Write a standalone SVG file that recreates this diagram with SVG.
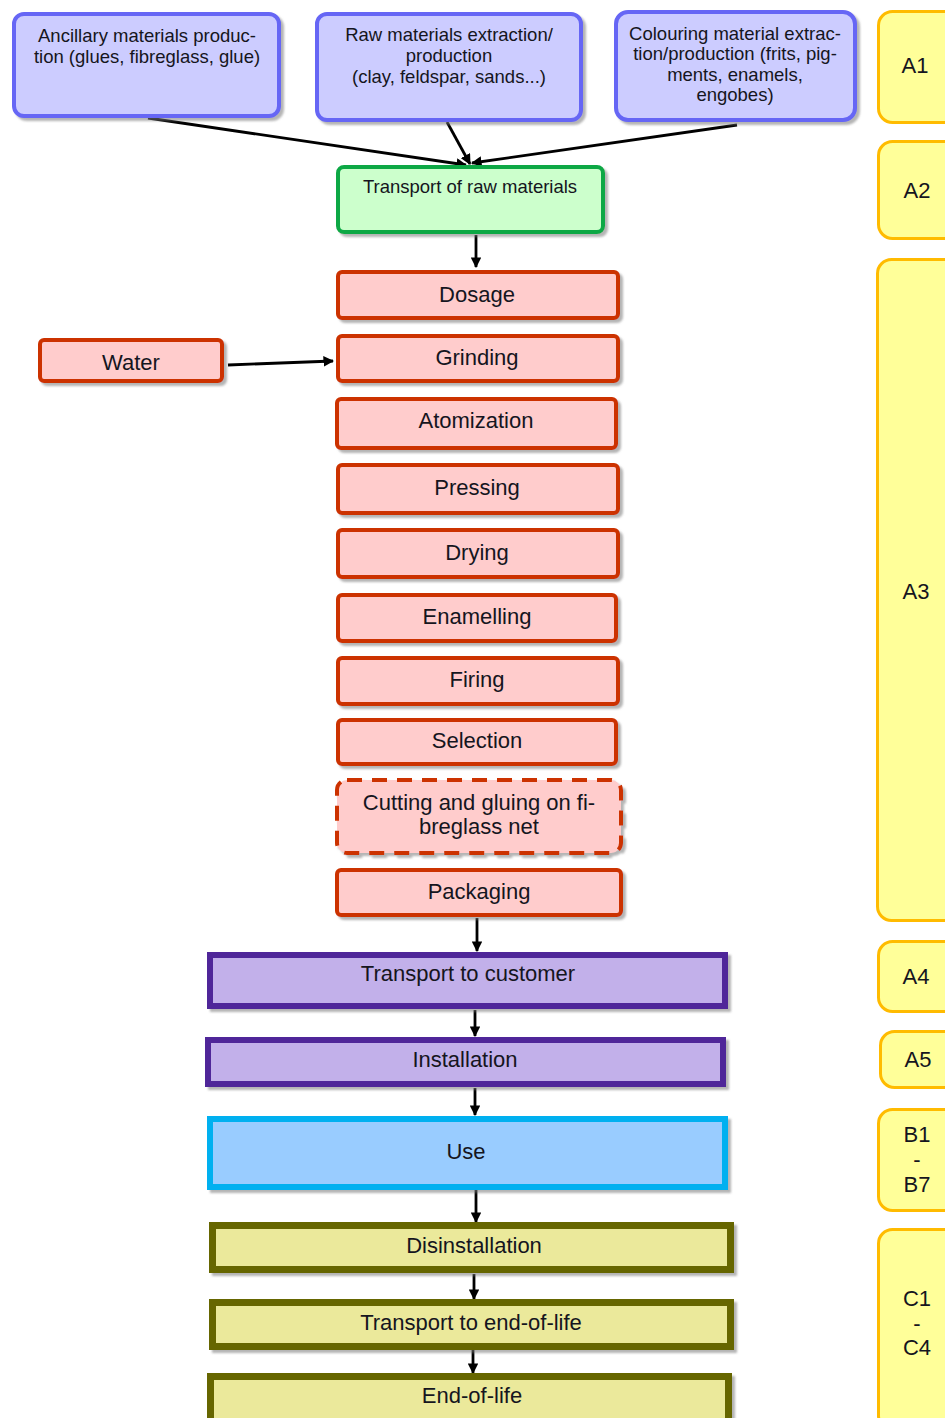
<svg xmlns="http://www.w3.org/2000/svg" width="945" height="1418" viewBox="0 0 945 1418">
<style>
text{font-family:"Liberation Sans",Arial,sans-serif;fill:#151520;text-anchor:middle}
.s{font-size:18.5px}
.m{font-size:22px}
.blue{fill:#ccccff;stroke:#6666f5;stroke-width:4}
.green{fill:#ccffcc;stroke:#0aa845;stroke-width:4}
.red{fill:#ffcccc;stroke:#cc3300;stroke-width:4}
.dash{stroke-dasharray:15 10}
.purple{fill:#c2b0ea;stroke:#4f2899;stroke-width:6}
.cyan{fill:#99ccff;stroke:#00b0f0;stroke-width:6}
.olive{fill:#ebe99b;stroke:#666600;stroke-width:7}
.yel{fill:#ffff99;stroke:#ffbb00;stroke-width:3}
.sh{filter:url(#shadow)}
.c{stroke:#000;stroke-width:2.8;fill:none;marker-end:url(#arr)}
</style>
<defs>
<filter id="shadow" x="-10%" y="-10%" width="130%" height="140%">
<feDropShadow dx="3" dy="3" stdDeviation="1" flood-color="#777" flood-opacity="0.55"/>
</filter>
<marker id="arr" viewBox="0 0 10 10" refX="9" refY="5" markerWidth="3.8" markerHeight="3.8" orient="auto" markerUnits="strokeWidth">
<path d="M0,0 L10,5 L0,10 z" fill="#000"/>
</marker>
</defs>
<rect width="945" height="1418" fill="#fff"/>

<g id="connectors">
<line class="c" x1="148" y1="118" x2="466" y2="165"/>
<line class="c" x1="447" y1="122" x2="470" y2="164"/>
<line class="c" x1="737" y1="125" x2="472" y2="163"/>
<line class="c" x1="476" y1="235" x2="476" y2="267"/>
<line class="c" x1="228" y1="365" x2="333" y2="361"/>
<line class="c" x1="477" y1="918" x2="477" y2="951"/>
<line class="c" x1="475" y1="1010" x2="475" y2="1036"/>
<line class="c" x1="475" y1="1088" x2="475" y2="1115"/>
<line class="c" x1="476" y1="1190" x2="476" y2="1222"/>
<line class="c" x1="474" y1="1274" x2="474" y2="1299"/>
<line class="c" x1="473" y1="1350" x2="473" y2="1373"/>
</g>

<g id="ancillary"><rect class="blue sh" x="14" y="14" width="265" height="102" rx="10"/>
<text class="s" x="147" y="41.5">Ancillary materials produc-</text>
<text class="s" x="147" y="62.5">tion (glues, fibreglass, glue)</text></g>
<g id="raw"><rect class="blue sh" x="317" y="14" width="264" height="106" rx="10"/>
<text class="s" x="449" y="41">Raw materials extraction/</text>
<text class="s" x="449" y="62">production</text>
<text class="s" x="449" y="83">(clay, feldspar, sands...)</text></g>
<g id="colouring"><rect class="blue sh" x="616" y="12" width="239" height="108" rx="12"/>
<text class="s" x="735" y="39.5">Colouring material extrac-</text>
<text class="s" x="735" y="60">tion/production (frits, pig-</text>
<text class="s" x="735" y="80.5">ments, enamels,</text>
<text class="s" x="735" y="101">engobes)</text></g>
<g id="transport-raw"><rect class="green sh" x="338" y="167" width="265" height="65" rx="6"/>
<text class="s" x="470" y="193">Transport of raw materials</text></g>

<g id="dosage"><rect class="red sh" x="338" y="272" width="280" height="46" rx="4"/><text class="m" x="477" y="302">Dosage</text></g>
<g id="water"><rect class="red sh" x="40" y="340" width="182" height="41" rx="4"/><text class="m" x="131" y="370">Water</text></g>
<g id="grinding"><rect class="red sh" x="338" y="336" width="280" height="45" rx="4"/><text class="m" x="477" y="365">Grinding</text></g>
<g id="atomization"><rect class="red sh" x="337" y="399" width="279" height="49" rx="4"/><text class="m" x="476" y="428">Atomization</text></g>
<g id="pressing"><rect class="red sh" x="338" y="465" width="280" height="48" rx="4"/><text class="m" x="477" y="495">Pressing</text></g>
<g id="drying"><rect class="red sh" x="338" y="530" width="280" height="47" rx="4"/><text class="m" x="477" y="560">Drying</text></g>
<g id="enamelling"><rect class="red sh" x="338" y="595" width="278" height="46" rx="4"/><text class="m" x="477" y="624">Enamelling</text></g>
<g id="firing"><rect class="red sh" x="338" y="658" width="280" height="46" rx="4"/><text class="m" x="477" y="687">Firing</text></g>
<g id="selection"><rect class="red sh" x="338" y="720" width="278" height="44" rx="4"/><text class="m" x="477" y="748">Selection</text></g>
<g id="cutting"><rect class="red dash sh" x="337" y="780" width="284" height="73" rx="10"/>
<text class="m" x="479" y="810">Cutting and gluing on fi-</text>
<text class="m" x="479" y="834">breglass net</text></g>
<g id="packaging"><rect class="red sh" x="337" y="870" width="284" height="45" rx="4"/><text class="m" x="479" y="899">Packaging</text></g>

<g id="transport-customer"><rect class="purple sh" x="210" y="955" width="515" height="51"/><text class="m" x="468" y="981">Transport to customer</text></g>
<g id="installation"><rect class="purple sh" x="208" y="1040" width="515" height="44"/><text class="m" x="465" y="1067">Installation</text></g>
<g id="use"><rect class="cyan sh" x="210" y="1119" width="515" height="68"/><text class="m" x="466" y="1159">Use</text></g>
<g id="disinstallation"><rect class="olive sh" x="212.5" y="1225.5" width="518" height="44"/><text class="m" x="474" y="1253">Disinstallation</text></g>
<g id="transport-eol"><rect class="olive sh" x="212.5" y="1302.5" width="518" height="44"/><text class="m" x="471" y="1330">Transport to end-of-life</text></g>
<g id="eol"><rect class="olive sh" x="210.5" y="1376.5" width="518" height="60"/><text class="m" x="472" y="1403">End-of-life</text></g>

<g id="A1"><rect class="yel" x="878.5" y="11.5" width="90" height="111" rx="14"/><text class="m" x="915" y="73">A1</text></g>
<g id="A2"><rect class="yel" x="878.5" y="141.5" width="90" height="97" rx="14"/><text class="m" x="917" y="198">A2</text></g>
<g id="A3"><rect class="yel" x="877.5" y="259.5" width="90" height="661" rx="14"/><text class="m" x="916" y="599">A3</text></g>
<g id="A4"><rect class="yel" x="878.5" y="941.5" width="90" height="70" rx="14"/><text class="m" x="916" y="984">A4</text></g>
<g id="A5"><rect class="yel" x="880.5" y="1031.5" width="90" height="56" rx="14"/><text class="m" x="918" y="1067">A5</text></g>
<g id="B1-B7"><rect class="yel" x="878.5" y="1109.5" width="90" height="101" rx="14"/>
<text class="m" x="917" y="1142">B1</text><text class="m" x="917" y="1167">-</text><text class="m" x="917" y="1192">B7</text></g>
<g id="C1-C4"><rect class="yel" x="878.5" y="1229.5" width="90" height="200" rx="14"/>
<text class="m" x="917" y="1306">C1</text><text class="m" x="917" y="1331">-</text><text class="m" x="917" y="1355">C4</text></g>
</svg>
